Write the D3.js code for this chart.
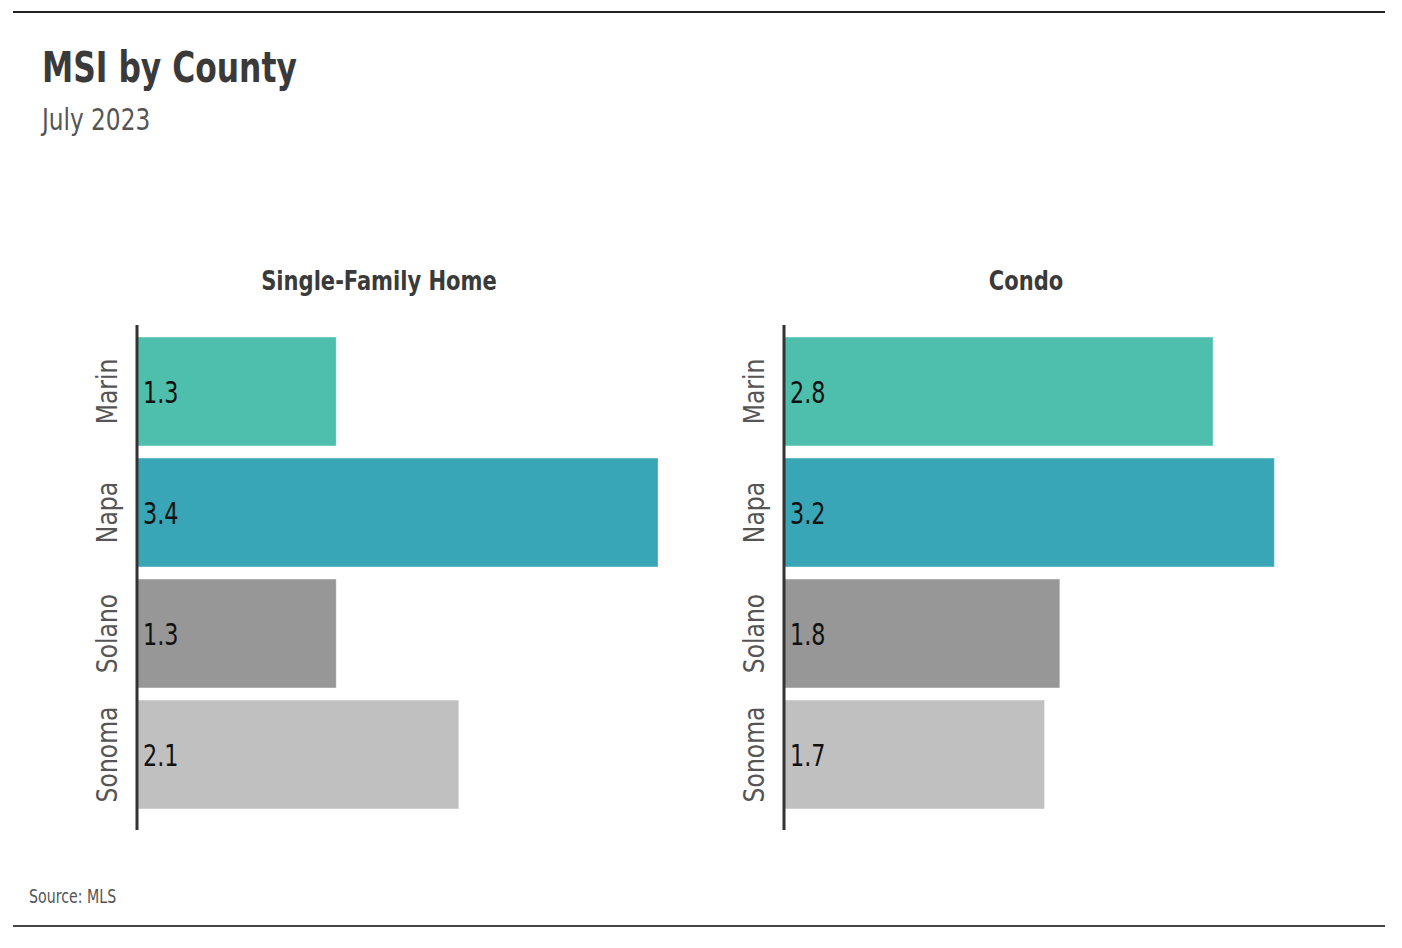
<!DOCTYPE html>
<html><head><meta charset="utf-8">
<script src="https://cdn.jsdelivr.net/npm/d3@7"></script>
<style>
html,body{margin:0;padding:0;background:#fff;}
svg{display:block;}
text{font-family:"Liberation Sans Narrow","DejaVu Sans Condensed","Roboto",sans-serif;}
</style></head>
<body>
<svg id="chart" width="1402" height="948"></svg>
<script>
const title = "MSI by County";
const subtitle = "July 2023";
const source = "Source: MLS";
const counties = ["Marin", "Napa", "Solano", "Sonoma"];
const panels = ["Single-Family Home", "Condo"];
const singleFamily = [1.3, 3.4, 1.3, 2.1];
const condo = [2.8, 3.2, 1.8, 1.7];
const colors = ["#4fbfad", "#38a6b6", "#979797", "#c0c0c0"];

const svg = d3.select("#chart");

// narrow the fallback font to mimic the reference's condensed face
function condense(sel, f) {
  sel.each(function () {
    const n = this.getComputedTextLength();
    d3.select(this).attr("textLength", n * f).attr("lengthAdjust", "spacingAndGlyphs");
  });
}

svg.append("line").attr("x1", 13).attr("x2", 1385).attr("y1", 12).attr("y2", 12)
  .attr("stroke", "#222").attr("stroke-width", 2);
svg.append("line").attr("x1", 13).attr("x2", 1385).attr("y1", 926).attr("y2", 926)
  .attr("stroke", "#444").attr("stroke-width", 2);

svg.append("text").attr("x", 42).attr("y", 82).text(title)
  .attr("font-size", 42).attr("font-weight", "bold").attr("fill", "#3a3a3a").call(condense, 0.83);
svg.append("text").attr("x", 42).attr("y", 130).text(subtitle)
  .attr("font-size", 30).attr("fill", "#555").call(condense, 0.86);
svg.append("text").attr("x", 29).attr("y", 903).text(source)
  .attr("font-size", 19).attr("fill", "#555").call(condense, 0.83);

const y = d3.scaleBand().domain(counties).range([331, 815]).paddingInner(0.1).paddingOuter(0.05);
const x = d3.scaleLinear().domain([0, 3.4]).range([0, 521]);
const color = d3.scaleOrdinal().domain(counties).range(colors);

const panelData = [singleFamily, condo];
const originX = [137, 784];

panelData.forEach((vals, p) => {
  const g = svg.append("g").attr("transform", `translate(${originX[p]},0)`);
  g.append("text").attr("x", 242).attr("y", 290).attr("text-anchor", "middle")
    .text(panels[p]).attr("font-size", 26).attr("font-weight", "bold").attr("fill", "#3a3a3a")
    .call(condense, 0.9);

  const rows = counties.map((c, i) => ({c, v: vals[i]}));
  g.selectAll("rect").data(rows).join("rect")
    .attr("x", 0).attr("y", d => y(d.c))
    .attr("width", d => x(d.v)).attr("height", y.bandwidth())
    .attr("fill", d => color(d.c))
    .attr("stroke", "#ffffff").attr("stroke-opacity", 0.35).attr("stroke-width", 1);

  g.selectAll("text.val").data(rows).join("text").attr("class", "val")
    .attr("x", 6).attr("y", d => y(d.c) + y.bandwidth() / 2)
    .attr("dy", "0.36em").text(d => d.v.toFixed(1))
    .attr("font-size", 31).attr("fill", "#111").call(condense, 0.8);

  g.selectAll("text.cat").data(rows).join("text").attr("class", "cat")
    .attr("transform", d => `translate(-20,${y(d.c) + y.bandwidth() / 2}) rotate(-90)`)
    .attr("text-anchor", "middle").text(d => d.c)
    .attr("font-size", 29).attr("fill", "#555").call(condense, 0.9);

  g.append("line").attr("x1", 0).attr("x2", 0).attr("y1", 325).attr("y2", 830)
    .attr("stroke", "#333").attr("stroke-width", 3);
});
</script>
</body></html>
